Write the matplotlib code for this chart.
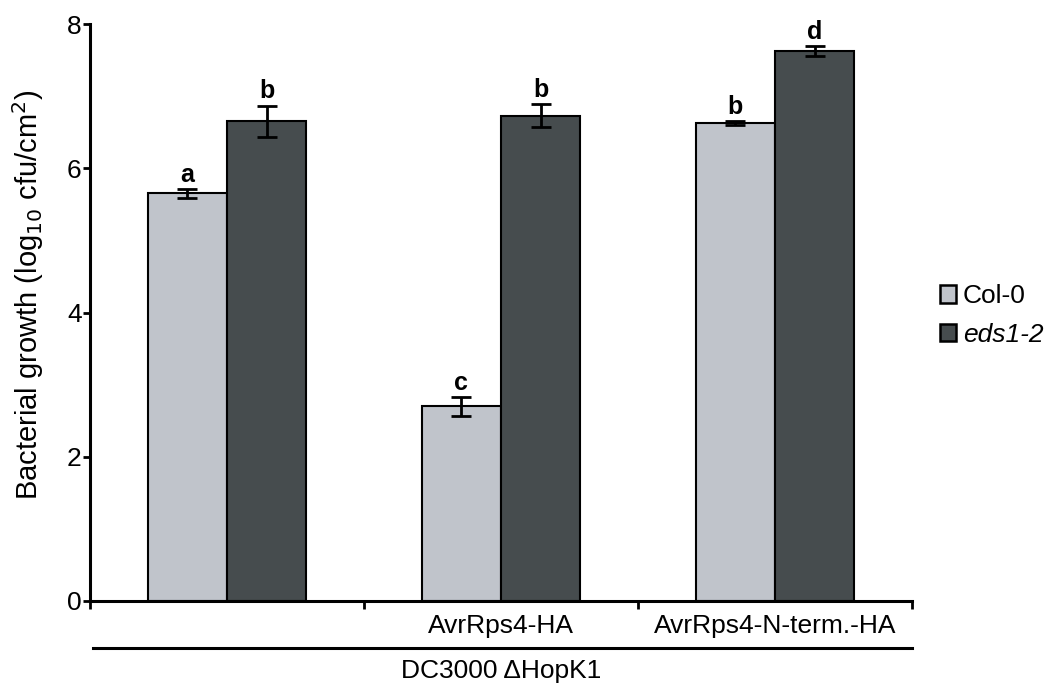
import matplotlib
matplotlib.use("Agg")
import matplotlib.pyplot as plt
import numpy as np
from matplotlib.patches import Patch

plt.rcParams['font.family'] = ['Liberation Sans', 'DejaVu Sans']

# bacterial growth per strain, log10 cfu/cm2
groups = ["", "AvrRps4-HA", "AvrRps4-N-term.-HA"]
col0 = [5.65, 2.70, 6.63]
col0_err = [0.06, 0.13, 0.03]
eds1 = [6.65, 6.73, 7.62]
eds1_err = [0.22, 0.16, 0.07]
col0_letters = ["a", "c", "b"]
eds1_letters = ["b", "b", "d"]

light = "#c0c4cb"
dark = "#464c4e"

fig = plt.figure(figsize=(10.48, 6.86), dpi=100)
ax = fig.add_axes([90/1048, 1-601/686, 822/1048, 577/686])

x = np.arange(len(groups)) + 0.5
w = 0.29
ax.bar(x - w/2, col0, w, color=light, edgecolor="black", linewidth=1.5, zorder=2)
ax.bar(x + w/2, eds1, w, color=dark, edgecolor="black", linewidth=1.5, zorder=2)
ax.errorbar(x - w/2, col0, yerr=col0_err, fmt="none", ecolor="black",
            elinewidth=2, capsize=7.5, capthick=2, zorder=3)
ax.errorbar(x + w/2, eds1, yerr=eds1_err, fmt="none", ecolor="black",
            elinewidth=2, capsize=7.5, capthick=2, zorder=3)

# significance letters sit just above each error bar
for xi, v, e, t in zip(x - w/2, col0, col0_err, col0_letters):
    ax.annotate(t, (xi, v + e), xytext=(0, 1.5), textcoords="offset points",
                ha="center", va="bottom", fontsize=18, fontweight="bold")
for xi, v, e, t in zip(x + w/2, eds1, eds1_err, eds1_letters):
    ax.annotate(t, (xi, v + e), xytext=(0, 1.5), textcoords="offset points",
                ha="center", va="bottom", fontsize=18, fontweight="bold")

ax.set_xlim(0, 3)
ax.set_ylim(0, 8)
ax.set_yticks([0, 2, 4, 6, 8])
ax.tick_params(axis="y", labelsize=19, width=2, length=5, pad=1)

ax.set_xticks([0, 1, 2, 3])
ax.set_xticklabels([])
ax.tick_params(axis="x", which="major", width=2, length=6)
ax.set_xticks(x, minor=True)
ax.set_xticklabels(groups, minor=True, fontsize=19)
ax.tick_params(axis="x", which="minor", length=0, pad=9)

for s in ["top", "right"]:
    ax.spines[s].set_visible(False)
for s in ["left", "bottom"]:
    ax.spines[s].set_linewidth(2.2)

ax.set_ylabel("Bacterial growth (log$_{10}$ cfu/cm$^2$)", fontsize=21)
ax.yaxis.set_label_coords(-0.053, 0.53)

# strain background bracket below the tick labels
trans = ax.get_xaxis_transform()
ax.plot([0.01, 3], [-0.0815, -0.0815], color="black", lw=2.2, transform=trans, clip_on=False)
ax.text(1.5, -0.121, "DC3000 \u0394HopK1", transform=trans, ha="center", va="center", fontsize=19)

handles = [Patch(facecolor=light, edgecolor="black", linewidth=1.8, label="Col-0"),
           Patch(facecolor=dark, edgecolor="black", linewidth=1.8, label="eds1-2")]
leg = fig.legend(handles=handles, loc="center left", bbox_to_anchor=(0.887, 0.540),
                 frameon=False, fontsize=19, handlelength=0.62, handleheight=0.62,
                 handletextpad=0.25, labelspacing=0.55, borderaxespad=0)
leg.get_texts()[1].set_fontstyle("italic")

fig.savefig("out.png", dpi=100)
